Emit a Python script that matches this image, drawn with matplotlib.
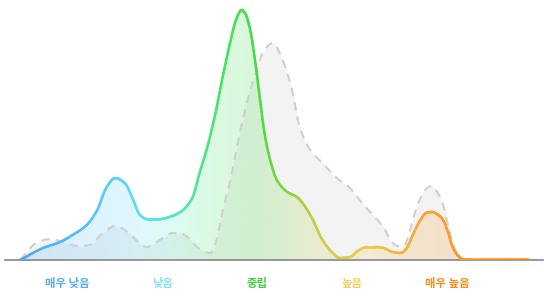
import numpy as np
import matplotlib.pyplot as plt
from matplotlib.collections import LineCollection
from matplotlib.colors import LinearSegmentedColormap

plt.rcParams['font.family'] = ['Noto Sans CJK KR', 'DejaVu Sans']

# sentiment score (x) and density (y)
score = [-2.49, -2.25, -2.07, -1.94, -1.79, -1.68, -1.58, -1.49, -1.39, -1.31,
         -1.23, -1.16, -1.02, -0.89, -0.79, -0.68, -0.60, -0.53, -0.44, -0.36,
         -0.28, -0.22, -0.16, -0.12, -0.07, -0.02, 0.03, 0.08, 0.14, 0.21,
         0.32, 0.42, 0.48, 0.59, 0.69, 0.80, 0.87, 0.98,
         1.06, 1.16, 1.24, 1.33, 1.43, 1.51, 1.57, 1.64, 1.72, 1.78,
         1.84, 1.91, 1.96, 2.01, 2.06, 2.12, 2.17, 2.24, 2.85]
density = [0, 12, 18, 25, 35, 50, 73, 82, 77, 62,
           45, 41, 41, 44, 49, 62, 88, 110, 145, 183,
           218, 240, 250, 246, 230, 200, 163, 127, 100, 80,
           68, 63, 57, 40, 20, 7, 2, 3,
           9, 13, 13, 12, 8, 7, 11, 25, 40, 47,
           48, 45, 40, 28, 13, 4, 1, 1, 1]

# comparison distribution (gray dashed)
ref_score = [-2.49, -2.32, -2.18, -2.04, -1.89, -1.76, -1.62, -1.49, -1.36, -1.25,
             -1.16, -1.07, -0.99, -0.89, -0.81, -0.73, -0.64, -0.57, -0.49, -0.43,
             -0.37, -0.28, -0.18, -0.07, 0.01, 0.06, 0.17, 0.27, 0.37, 0.45,
             0.56, 0.69, 0.84, 0.98, 1.08, 1.21, 1.33, 1.42, 1.48, 1.55,
             1.61, 1.69, 1.77, 1.84, 1.91, 1.96, 2.01, 2.06, 2.12, 2.16]
ref_density = [0, 17, 21, 18, 14, 15, 27, 34, 28, 18,
               13, 17, 22, 27, 27, 23, 14, 9, 7, 18,
               45, 80, 127, 170, 193, 207, 217, 200, 170, 133,
               110, 97, 82, 72, 60, 46, 33, 18, 14, 14,
               30, 55, 70, 74, 66, 55, 35, 17, 4, 0]

labels = ['매우 낮음', '낮음', '중립', '높음', '매우 높음']
label_pos = [-1.99, -0.99, 0.0, 1.0, 2.0]
label_colors = ['#5aabf0', '#80e2f6', '#44cc44', '#f3d060', '#ff8a1c']


def smooth(x, y, n=10):
    # monotone cubic curve through the points, only for drawing
    x = np.asarray(x, float)
    y = np.asarray(y, float)
    h = np.diff(x)
    d = np.diff(y) / h
    m = np.zeros_like(y)
    m[0], m[-1] = d[0], d[-1]
    for k in range(1, len(x) - 1):
        if d[k - 1] * d[k] > 0:
            w1 = 2 * h[k] + h[k - 1]
            w2 = h[k] + 2 * h[k - 1]
            m[k] = (w1 + w2) / (w1 / d[k - 1] + w2 / d[k])
    xs, ys = [], []
    t = np.linspace(0, 1, n, endpoint=False)
    for k in range(len(x) - 1):
        h00 = 2 * t**3 - 3 * t**2 + 1
        h10 = t**3 - 2 * t**2 + t
        h01 = -2 * t**3 + 3 * t**2
        h11 = t**3 - t**2
        xs.append(x[k] + t * h[k])
        ys.append(h00 * y[k] + h10 * h[k] * m[k] + h01 * y[k + 1] + h11 * h[k] * m[k + 1])
    xs.append([x[-1]])
    ys.append([y[-1]])
    return np.concatenate(xs), np.concatenate(ys)


x0, x1 = -2.65, 3.01
grad = LinearSegmentedColormap.from_list('sent', [
    (0.00, '#4a9ef5'), (0.17, '#55c6ff'), (0.25, '#5fdcf2'),
    (0.32, '#55e8b8'), (0.40, '#48e264'), (0.47, '#44dd44'),
    (0.53, '#8ed440'), (0.60, '#d2cc48'), (0.68, '#f2c84a'),
    (0.74, '#f7b040'), (0.79, '#ffa030'), (1.00, '#ff8020')])

sx, sy = smooth(score, density)
rx, ry = smooth(ref_score, ref_density)

fig = plt.figure(figsize=(5.44, 3.03), dpi=100)
ax = fig.add_axes([5 / 544, 43 / 303, 538 / 544, 260 / 303])

# gray comparison
ax.fill_between(rx, ry, 0, color='#f3f3f3', lw=0, zorder=1)

# gradient fill under main curve
poly = ax.fill_between(sx, sy, 0, color='none', lw=0, zorder=2)
gx = np.linspace(0, 1, 400)
rgba = grad(gx)[np.newaxis, :, :].copy()
rgba[..., 3] = 0.2
im = ax.imshow(rgba, extent=[x0, x1, 0, 260], aspect='auto', zorder=2,
               interpolation='bilinear')
im.set_clip_path(poly.get_paths()[0], transform=ax.transData)

ax.plot(rx, ry, color='#cfcfcf', lw=1.5, dashes=(4, 3), zorder=3)

# gradient line
pts = np.column_stack([sx, sy])
segs = np.stack([pts[:-1], pts[1:]], axis=1)
mid = (sx[:-1] + sx[1:]) / 2
lc = LineCollection(segs, colors=grad((mid - x0) / (x1 - x0)), linewidths=1.8,
                    capstyle='round', joinstyle='round', zorder=4)
ax.add_collection(lc)

ax.set_xlim(x0, x1)
ax.set_ylim(0, 260)
for s in ['top', 'right', 'left']:
    ax.spines[s].set_visible(False)
ax.spines['bottom'].set_color('#888888')
ax.spines['bottom'].set_linewidth(1.2)
ax.set_xticks([])
ax.set_yticks([])

for lab, p, c in zip(labels, label_pos, label_colors):
    ax.text(p, -23, lab, color=c, fontsize=8.2, fontweight='bold',
            ha='center', va='center', clip_on=False)

fig.savefig('out.png', dpi=100)
